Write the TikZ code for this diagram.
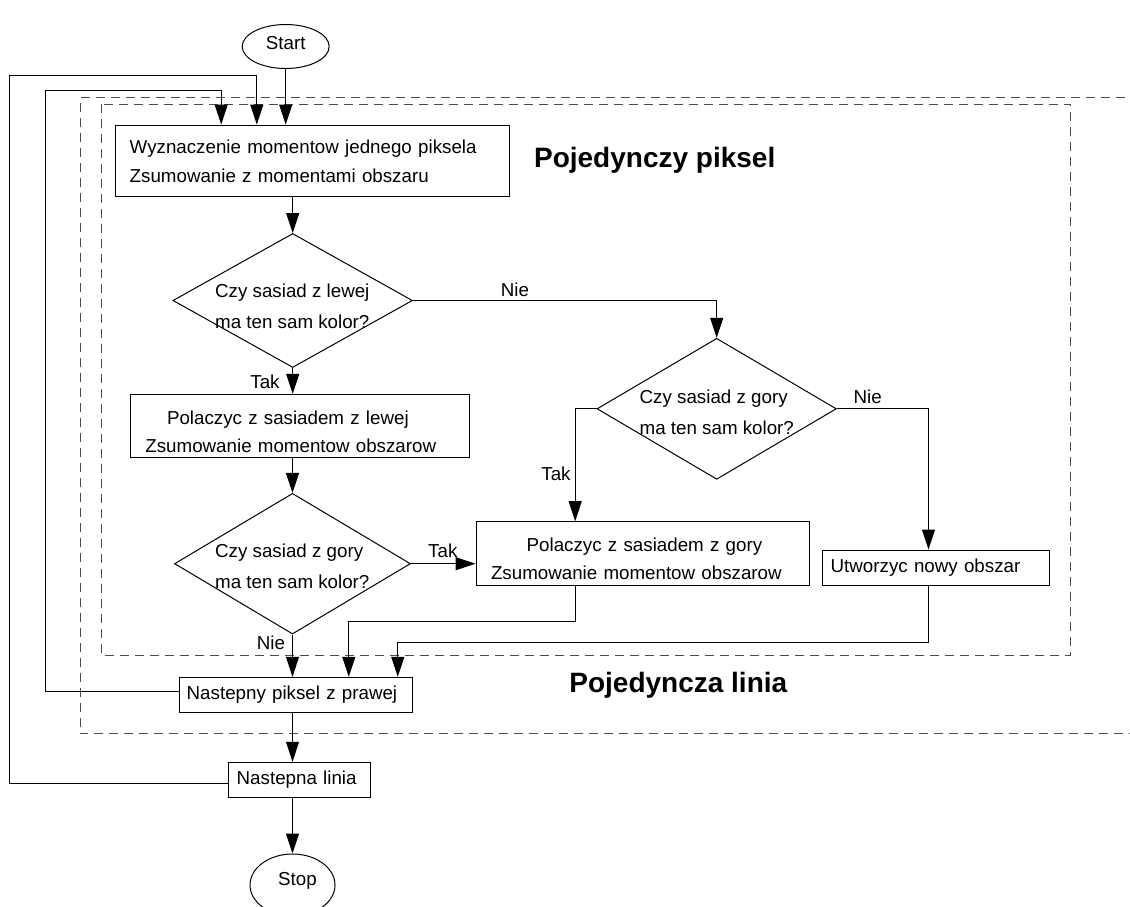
\documentclass[tikz,border=0pt]{standalone}
\usepackage{fontspec}
\setmainfont{Liberation Sans}
\usetikzlibrary{arrows.meta,shapes.geometric}
\begin{document}
\begin{tikzpicture}[x=1pt,y=-1pt,
  every node/.style={font=\fontsize{18.75}{29}\selectfont},
  box/.style={draw=black, line width=1pt, rectangle, inner ysep=0pt, align=left},
  term/.style={draw=black, line width=1pt, ellipse, inner sep=0pt, text height=13.7pt},
  cond/.style={draw=black, line width=1pt, diamond, inner sep=0pt},
  qtext/.style={inner sep=0pt, align=left, font=\fontsize{18.75}{31}\selectfont},
  lbl/.style={inner sep=0pt},
  title/.style={inner sep=0pt, font=\bfseries\fontsize{28}{34}\selectfont},
  frame/.style={draw=black!70, line width=1pt, dash pattern=on 9pt off 6pt},
  flow/.style={draw=black, line width=1pt, -{Triangle[length=20pt,width=13pt]}}
]
\useasboundingbox (0,0) rectangle (1130,907);
\clip (0,0) rectangle (1130,907);

% dashed frames: single pixel (inner) and single line (outer)
\draw[frame] (101.7,104.3) rectangle (1070.7,655.7);
\draw[frame] (1140,97.7) -- (80,97.7) -- (80,733.5) -- (1140,733.5);

% terminals
\node[term, minimum width=87pt, minimum height=44pt, text depth=8.6pt] (start) at (285.7,46.5) {Start};
\node[term, minimum width=85pt, minimum height=62pt, text depth=12.3pt] (stop) at (292.5,885) {\hspace*{10pt}Stop};

% process boxes
\node[box, minimum width=393.3pt, minimum height=71.7pt, text width=365.3pt, inner xsep=14pt] (box1) at (312.35,160.85)
  {Wyznaczenie momentow jednego piksela\\Zsumowanie z momentami obszaru};
\node[box, minimum width=339.3pt, minimum height=63.4pt, text width=308.5pt, inner xsep=15.4pt,
      font=\fontsize{18.75}{28}\selectfont] (boxL) at (299.65,426)
  {\hspace*{21.6pt}\rule{0pt}{25pt}Polaczyc z sasiadem z lewej\\Zsumowanie momentow obszarow};
\node[box, minimum width=333.3pt, minimum height=63.6pt, text width=303.3pt, inner xsep=15pt,
      font=\fontsize{18.75}{28}\selectfont] (boxG) at (642.65,553.5)
  {\hspace*{35.7pt}\rule{0pt}{25pt}Polaczyc z sasiadem z gory\\Zsumowanie momentow obszarow};
\node[box, minimum width=226.6pt, minimum height=35.3pt, text width=210.6pt, inner xsep=8pt] (boxU) at (936,567.65)
  {Utworzyc nowy obszar};
\node[box, minimum width=233.4pt, minimum height=35.4pt, text width=218.6pt, inner xsep=7.4pt] (boxN) at (296,695)
  {Nastepny piksel z prawej};
\node[box, minimum width=141.6pt, minimum height=35pt, text width=125.6pt, inner xsep=8pt] (boxL2) at (299.5,779.8)
  {Nastepna linia};

% decisions
\node[cond, minimum width=239.6pt, minimum height=134pt] (d1) at (292.7,300.5) {};
\node[qtext, anchor=west] (d1t) at (215,305.9) {Czy sasiad z lewej\\ma ten sam kolor?};
\node[cond, minimum width=239.4pt, minimum height=141pt] (d2) at (716.7,408.8) {};
\node[qtext, anchor=west] (d2t) at (639.5,412.2) {Czy sasiad z gory\\ma ten sam kolor?};
\node[cond, minimum width=236pt, minimum height=140.7pt] (d3) at (292.5,563.7) {};
\node[qtext, anchor=west] (d3t) at (215,566.7) {Czy sasiad z gory\\ma ten sam kolor?};

% frame titles
\node[title, anchor=base] (tpix) at (654.7,167.3) {Pojedynczy piksel};
\node[title, anchor=base] (tline) at (678.3,692.7) {Pojedyncza linia};

% loop waypoints
\coordinate (loopA) at (9.3,76);
\coordinate (loopB) at (45,90);

% connectors
\draw[flow] (start.south) -- (start.south |- box1.north);
\draw[flow] ([yshift=-3.5pt]boxL2.west) -| (loopA) -| ([xshift=141.6pt]box1.north west);
\draw[flow] ([yshift=3.3pt]boxN.west) -| (loopB) -| ([xshift=106pt]box1.north west);
\draw[flow] (box1.south -| d1.north) -- (d1.north);
\draw[flow] (d1.south) -- (d1.south |- boxL.north);
\draw[flow] (d1.east) -| (d2.north);
\draw[flow] (d3.north |- boxL.south) -- (d3.north);
\draw[flow] (d2.west) -| ([xshift=99.7pt]boxG.north west);
\draw[flow] (d2.east) -| ([xshift=106.3pt]boxU.north west);
\draw[flow] (d3.east) -- (d3.east -| boxG.west);
\draw[flow] (d3.south) -- (d3.south |- boxN.north);
\draw[flow] ([xshift=99.7pt]boxG.south west) -- ++(0,35.4) -| ([xshift=170pt]boxN.north west);
\draw[flow] ([xshift=106.3pt]boxU.south west) -- ++(0,56.4) -| ([xshift=219pt]boxN.north west);
\draw[flow] (boxN.south -| d3.south) -- (boxL2.north -| d3.south);
\draw[flow] (boxL2.south -| stop.north) -- (stop.north);

% branch labels
\node[lbl] (n1) at (515,290) {Nie};
\node[lbl] (t1) at (265,381.7) {Tak};
\node[lbl] (t2) at (556,473.3) {Tak};
\node[lbl] (n2) at (867.7,396.7) {Nie};
\node[lbl] (t3) at (442.8,550.7) {Tak};
\node[lbl] (n3) at (271,642.7) {Nie};
\end{tikzpicture}
\end{document}
